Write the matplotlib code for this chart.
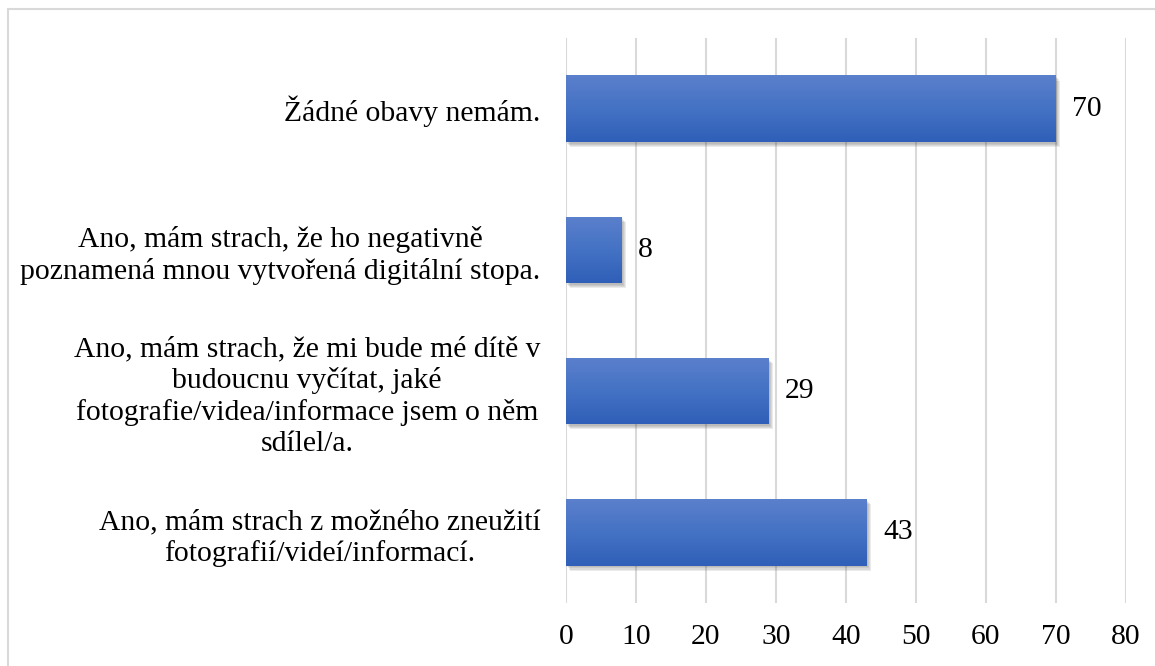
import numpy as np
import matplotlib.pyplot as plt
import matplotlib.patheffects as pe
from matplotlib.patches import Rectangle

# data (top to bottom as in the picture)
labels = [
    'Žádné obavy nemám.',
    'Ano, mám strach, že ho negativně\npoznamená mnou vytvořená digitální stopa.',
    'Ano, mám strach, že mi bude mé dítě v\nbudoucnu vyčítat, jaké\nfotografie/videa/informace jsem o něm\nsdílel/a.',
    'Ano, mám strach z možného zneužití\nfotografií/videí/informací.',
]
values = [70, 8, 29, 43]
xticks = [0, 10, 20, 30, 40, 50, 60, 70, 80]

plt.rcParams['font.family'] = ['Liberation Serif', 'DejaVu Serif']
fs = 21.3

fig = plt.figure(figsize=(11.55, 6.66), dpi=100)
ax = fig.add_axes([566/1155, 1-603/666, 560/1155, 565/666])

# outer light frame (only top/left visible)
fig.patches.append(Rectangle((8/1155, 0-0.1), 1.2, 1-9/666+0.1, transform=fig.transFigure,
                             fill=False, edgecolor='#d9d9d9', linewidth=1.5))

ypos = np.arange(len(values))
# soft shadow: a few offset layers
shadow = [pe.SimplePatchShadow(offset=(o, -o - 0.5), shadow_rgbFace='#404040', alpha=0.1)
          for o in (0.8, 1.6, 2.4, 3.2)]
bars = ax.barh(ypos, values, height=0.47, color='#4472c4', zorder=3,
               path_effects=shadow + [pe.Normal()])

# vertical gradient on each bar
grad = np.linspace(0, 1, 64).reshape(-1, 1)
cmap = plt.matplotlib.colors.LinearSegmentedColormap.from_list('g', ['#5b80cc', '#4472c4', '#2f5fb8'])
for b in bars:
    x0, y0 = b.get_x(), b.get_y()
    w, h = b.get_width(), b.get_height()
    im = ax.imshow(grad, cmap=cmap, aspect='auto', extent=(x0, x0 + w, y0 + h, y0),
                   zorder=4, interpolation='bicubic')
    im.set_clip_path(b)

for y, v in zip(ypos, values):
    ax.annotate(str(v), (v, y), xytext=(11.5, 0), textcoords='offset points',
                va='center', ha='left', fontsize=fs)

ax.set_xlim(0, 80)
ax.set_ylim(len(values) - 0.5, -0.5)
ax.set_xticks(xticks)
ax.set_xticklabels([str(t) for t in xticks], fontsize=fs)
ax.set_yticks(ypos)
ax.set_yticklabels(labels, fontsize=fs, multialignment='center', linespacing=1.24)
ax.tick_params(axis='both', length=0)
ax.tick_params(axis='x', pad=15)
ax.tick_params(axis='y', pad=18.5)
ax.grid(axis='x', color='#d9d9d9', linewidth=1.5, zorder=0)
ax.set_axisbelow(True)
for s in ax.spines.values():
    s.set_visible(False)

fig.savefig('out.png', dpi=100)
